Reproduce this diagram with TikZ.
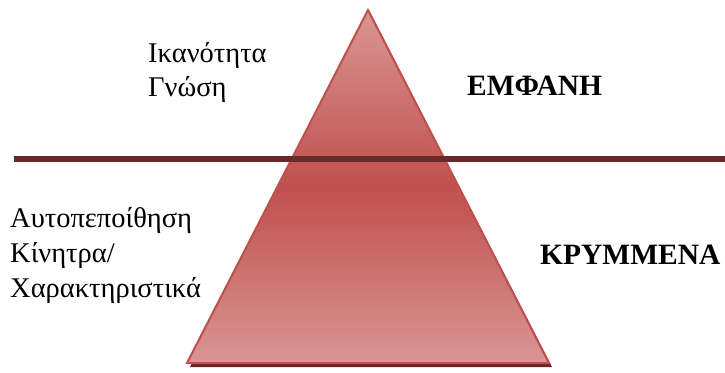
\documentclass[tikz,border=0pt]{standalone}
\usepackage{fontspec}
\setmainfont{Liberation Serif}
\definecolor{pyrLight}{HTML}{D99694}
\definecolor{pyrDark}{HTML}{C0504D}
\definecolor{pyrEdge}{HTML}{C0504D}
\definecolor{pyrShadow}{HTML}{632523}
\definecolor{waterline}{HTML}{6A2828}
\tikzset{
  label/.style={anchor=base west, inner sep=0pt, font=\fontsize{28.5}{34}\selectfont},
  heading/.style={label, font=\fontsize{29.5}{34}\selectfont\bfseries},
}
\begin{document}
\begin{tikzpicture}[x=1pt,y=-1pt]
\useasboundingbox (0,0) rectangle (725,372);
% pyramid corners
\coordinate (apex) at (368,10);
\coordinate (bl) at (187,363);
\coordinate (br) at (549,363);
% drop shadow
\fill[pyrShadow] ([shift={(3,4)}]apex) -- ([shift={(3,4)}]bl) -- ([shift={(3,4)}]br) -- cycle;
% shaded pyramid
\path[draw=pyrEdge, line width=2pt, line join=miter,
      top color=pyrLight, bottom color=pyrLight, middle color=pyrDark]
  (apex) -- (bl) -- (br) -- cycle;
% dividing line
\coordinate (lineL) at (14,159);
\coordinate (lineR) at (725,159);
\draw[waterline, line width=6pt] (lineL) -- (lineR);
% visible part
\node[label] (ik) at (148,62) {Ικανότητα};
\node[label] (gn) at (148,96) {Γνώση};
\node[heading] (emf) at (467,95) {ΕΜΦΑΝΗ};
% hidden part
\node[label] (au) at (10,227) {Αυτοπεποίθηση};
\node[label] (ki) at (10,262) {Κίνητρα/};
\node[label] (xa) at (10,297) {Χαρακτηριστικά};
\node[heading] (kr) at (540,264) {ΚΡΥΜΜΕΝΑ};
\end{tikzpicture}
\end{document}
